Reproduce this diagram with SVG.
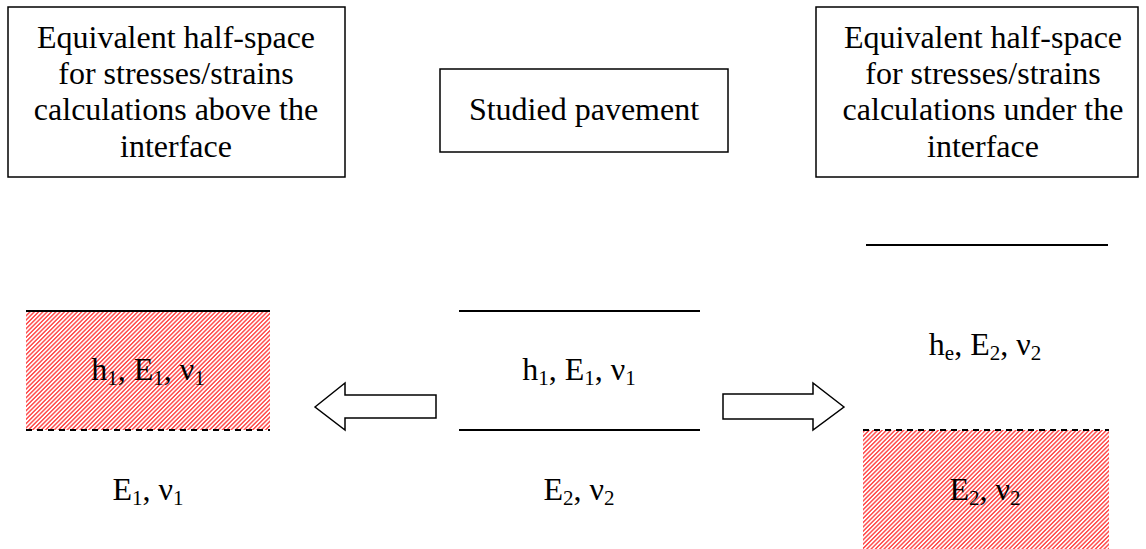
<svg xmlns="http://www.w3.org/2000/svg" width="1146" height="549" viewBox="0 0 1146 549">
<style>
text{font-family:"Liberation Serif","Times New Roman",serif;font-size:32px;fill:#000;text-anchor:middle}
.box{fill:#fff;stroke:#000;stroke-width:1.5}
.ln{stroke:#000;stroke-width:2;fill:none}
.dash{stroke:#000;stroke-width:2;stroke-dasharray:6,5;fill:none}
.arr{fill:#fff;stroke:#000;stroke-width:1.5;stroke-linejoin:miter}
.s{font-size:21px}
</style>
<defs>
<pattern id="hatch" patternUnits="userSpaceOnUse" width="3.05" height="10" patternTransform="rotate(45)">
<rect x="0" y="0" width="1.5" height="10" fill="#ff5050"/>
</pattern>
</defs>
<rect width="1146" height="549" fill="#fff"/>
<g id="box-above">
<rect class="box" x="8" y="7" width="337" height="170"/>
<text x="176" y="48">Equivalent half-space</text>
<text x="176" y="84">for stresses/strains</text>
<text x="176" y="120">calculations above the</text>
<text x="176" y="157">interface</text>
</g>
<g id="box-studied">
<rect class="box" x="440" y="69" width="288" height="83"/>
<text x="584" y="120">Studied pavement</text>
</g>
<g id="box-under">
<rect class="box" x="816" y="7" width="322" height="170"/>
<text x="983" y="48">Equivalent half-space</text>
<text x="983" y="84">for stresses/strains</text>
<text x="983" y="120">calculations under the</text>
<text x="983" y="157">interface</text>
</g>
<g id="left-model">
<rect x="26" y="311" width="244" height="119" fill="url(#hatch)"/>
<line class="ln" x1="26" y1="311" x2="270" y2="311"/>
<line class="dash" x1="26" y1="430" x2="270" y2="430"/>
<text x="148" y="380">h<tspan class="s" dy="5">1</tspan><tspan dy="-5">, E</tspan><tspan class="s" dy="5">1</tspan><tspan dy="-5">, ν</tspan><tspan class="s" dy="5">1</tspan></text>
<text x="148" y="500">E<tspan class="s" dy="5">1</tspan><tspan dy="-5">, ν</tspan><tspan class="s" dy="5">1</tspan></text>
</g>
<g id="center-model">
<line class="ln" x1="459" y1="311" x2="700" y2="311"/>
<line class="ln" x1="459" y1="430" x2="700" y2="430"/>
<text x="579" y="380">h<tspan class="s" dy="5">1</tspan><tspan dy="-5">, E</tspan><tspan class="s" dy="5">1</tspan><tspan dy="-5">, ν</tspan><tspan class="s" dy="5">1</tspan></text>
<text x="579" y="500">E<tspan class="s" dy="5">2</tspan><tspan dy="-5">, ν</tspan><tspan class="s" dy="5">2</tspan></text>
</g>
<g id="right-model">
<line class="ln" x1="866" y1="245" x2="1108" y2="245"/>
<text x="985" y="355">h<tspan class="s" dy="5">e</tspan><tspan dy="-5">, E</tspan><tspan class="s" dy="5">2</tspan><tspan dy="-5">, ν</tspan><tspan class="s" dy="5">2</tspan></text>
<rect x="863" y="430" width="246" height="119" fill="url(#hatch)"/>
<line class="dash" x1="863" y1="430" x2="1109" y2="430"/>
<text x="985" y="500">E<tspan class="s" dy="5">2</tspan><tspan dy="-5">, ν</tspan><tspan class="s" dy="5">2</tspan></text>
</g>
<g id="connectors">
<polygon class="arr" points="315,407 345,383 345,395 436,395 436,418 345,418 345,430"/>
<polygon class="arr" points="844,407 813,383 813,394 723,394 723,419 813,419 813,430"/>
</g>
</svg>
